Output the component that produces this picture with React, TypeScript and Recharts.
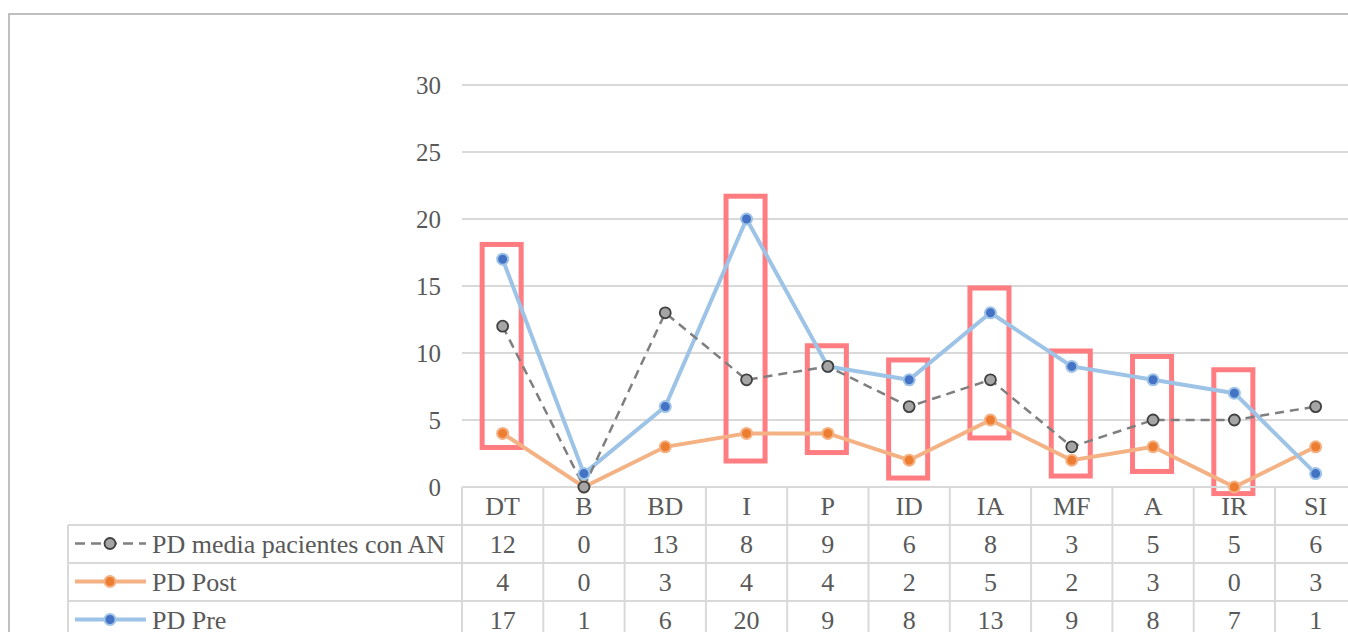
import React from "react";
import {
  LineChart,
  Line,
  XAxis,
  YAxis,
  CartesianGrid,
  ReferenceArea,
} from "recharts";

// categories and series
const categories = ["DT", "B", "BD", "I", "P", "ID", "IA", "MF", "A", "IR", "SI"];
const mediaAN = [12, 0, 13, 8, 9, 6, 8, 3, 5, 5, 6];
const pdPost = [4, 0, 3, 4, 4, 2, 5, 2, 3, 0, 3];
const pdPre = [17, 1, 6, 20, 9, 8, 13, 9, 8, 7, 1];
const yTicks = [0, 5, 10, 15, 20, 25, 30];

// highlighted categories (value range covered by each box)
const highlightCats = ["DT", "I", "P", "ID", "IA", "MF", "A", "IR"];
const highlightLow = [2.95, 1.94, 2.57, 0.67, 3.66, 0.82, 1.16, -0.49];
const highlightHigh = [18.1, 21.7, 10.54, 9.48, 14.85, 10.15, 9.74, 8.75];

const data = categories.map((name, i) => ({
  name,
  media: mediaAN[i],
  post: pdPost[i],
  pre: pdPre[i],
}));

const SERIF = "Liberation Serif, Tinos, DejaVu Serif, Noto Serif, Times New Roman, serif";
const TEXT = "#595959";
const GRID = "#d9d9d9";
const BOX = "#ff7c80";

// layout
const CHART_W = 1420;
const CHART_H = 640;
const PLOT_LEFT = 454;
const BAND = 81.3;
const PLOT_W = BAND * categories.length;
const ROW_H = 38;
const LEGEND_W = 394;
const FONT = 26;

type RowDef = {
  id: string;
  name: string;
  values: number[];
  line: string;
  lineWidth: number;
  dash?: string;
  dotFill: string;
  dotStroke: string;
  dotStrokeWidth: number;
};

const rows: RowDef[] = [
  {
    id: "media",
    name: "PD media pacientes con AN",
    values: mediaAN,
    line: "#7f7f7f",
    lineWidth: 2.5,
    dash: "9 6",
    dotFill: "#a5a5a5",
    dotStroke: "#404040",
    dotStrokeWidth: 1.8,
  },
  {
    id: "post",
    name: "PD Post",
    values: pdPost,
    line: "#f4b183",
    lineWidth: 4,
    dotFill: "#ed7d31",
    dotStroke: "#f4b183",
    dotStrokeWidth: 2,
  },
  {
    id: "pre",
    name: "PD Pre",
    values: pdPre,
    line: "#9dc3e6",
    lineWidth: 4,
    dotFill: "#4472c4",
    dotStroke: "#9dc3e6",
    dotStrokeWidth: 2,
  },
];

const HeaderTick = (props: any) => {
  const { x, y, payload, index } = props;
  const left = x - BAND / 2;
  return (
    <g>
      <line x1={left} y1={y} x2={left} y2={y + ROW_H} stroke={GRID} strokeWidth={2} />
      {index === categories.length - 1 && (
        <line x1={left + BAND} y1={y} x2={left + BAND} y2={y + ROW_H} stroke={GRID} strokeWidth={2} />
      )}
      <text x={x} y={y + 28} textAnchor="middle" fill={TEXT} fontSize={FONT} style={{ fontFamily: SERIF }}>
        {payload.value}
      </text>
    </g>
  );
};

const makeRowTick = (row: RowDef) => (props: any) => {
  const { x, y, index } = props;
  const left = x - BAND / 2;
  const tableLeft = left - LEGEND_W;
  const cy = y + 18.5;
  return (
    <g>
      <line x1={left} y1={y} x2={left} y2={y + ROW_H} stroke={GRID} strokeWidth={2} />
      {index === categories.length - 1 && (
        <line x1={left + BAND} y1={y} x2={left + BAND} y2={y + ROW_H} stroke={GRID} strokeWidth={2} />
      )}
      <text x={x} y={y + 28} textAnchor="middle" fill={TEXT} fontSize={FONT} style={{ fontFamily: SERIF }}>
        {row.values[index]}
      </text>
      {index === 0 && (
        <g>
          <line x1={tableLeft} y1={y} x2={left} y2={y} stroke={GRID} strokeWidth={2} />
          <line x1={tableLeft} y1={y} x2={tableLeft} y2={y + ROW_H} stroke={GRID} strokeWidth={2} />
          <line
            x1={tableLeft + 7}
            y1={cy}
            x2={tableLeft + 78}
            y2={cy}
            stroke={row.line}
            strokeWidth={row.lineWidth}
            strokeDasharray={row.dash ? "10 6" : undefined}
          />
          <circle
            cx={tableLeft + 42}
            cy={cy}
            r={5.5}
            fill={row.dotFill}
            stroke={row.dotStroke}
            strokeWidth={row.dotStrokeWidth}
          />
          <text x={tableLeft + 84} y={y + 28} fill={TEXT} fontSize={FONT} style={{ fontFamily: SERIF }}>
            {row.name}
          </text>
        </g>
      )}
    </g>
  );
};

const boxShape = (p: any) => (
  <rect
    x={p.x + p.width * 0.26 - 1}
    y={p.y}
    width={p.width * 0.48}
    height={p.height}
    fill="none"
    stroke={BOX}
    strokeWidth={5}
  />
);

// series drawn bottom to top
const drawOrder = ["post", "pre", "media"];

export default function App() {
  return (
    <div
      style={{
        position: "fixed",
        left: 0,
        top: 0,
        width: 1348,
        height: 632,
        overflow: "hidden",
        background: "#fff",
        fontFamily: SERIF,
      }}
    >
      <div
        style={{
          position: "absolute",
          left: 8,
          top: 13,
          width: 1400,
          height: 700,
          border: "2px solid #c0c0c0",
          boxSizing: "border-box",
        }}
      />
      <div style={{ position: "absolute", left: 8, top: 8 }}>
        <LineChart
          width={CHART_W}
          height={CHART_H}
          data={data}
          margin={{ top: 77, right: CHART_W - PLOT_LEFT - PLOT_W, left: 0, bottom: 9 }}
        >
          <CartesianGrid xAxisId="cat" vertical={false} stroke={GRID} strokeWidth={2} />
          <XAxis
            xAxisId="cat"
            dataKey="name"
            scale="band"
            interval={0}
            height={ROW_H}
            tickSize={0}
            tickMargin={0}
            tickLine={false}
            axisLine={{ stroke: GRID, strokeWidth: 2 }}
            tick={HeaderTick}
          />
          {rows.map((row) => (
            <XAxis
              key={row.id}
              xAxisId={row.id}
              dataKey="name"
              scale="band"
              interval={0}
              height={ROW_H}
              tickSize={0}
              tickMargin={0}
              tickLine={false}
              axisLine={{ stroke: GRID, strokeWidth: 2 }}
              tick={makeRowTick(row)}
            />
          ))}
          <YAxis
            width={PLOT_LEFT}
            domain={[0, 30]}
            ticks={yTicks}
            interval={0}
            axisLine={false}
            tickLine={false}
            tickSize={0}
            tickMargin={21}
            tick={{ fill: TEXT, fontSize: 25, style: { fontFamily: SERIF } }}
          />
          {highlightCats.map((c, i) => (
            <ReferenceArea
              key={c}
              xAxisId="cat"
              x1={c}
              x2={c}
              y1={highlightLow[i]}
              y2={highlightHigh[i]}
              ifOverflow="visible"
              shape={boxShape}
            />
          ))}
          {drawOrder.map((id) => {
            const row = rows.find((r) => r.id === id)!;
            return (
              <Line
                key={id}
                xAxisId="cat"
                type="linear"
                dataKey={id}
                name={row.name}
                stroke={row.line}
                strokeWidth={row.lineWidth}
                strokeDasharray={row.dash}
                dot={{
                  r: 5.5,
                  fill: row.dotFill,
                  stroke: row.dotStroke,
                  strokeWidth: row.dotStrokeWidth,
                  strokeDasharray: "",
                }}
                activeDot={false}
                isAnimationActive={false}
              />
            );
          })}
        </LineChart>
      </div>
    </div>
  );
}
